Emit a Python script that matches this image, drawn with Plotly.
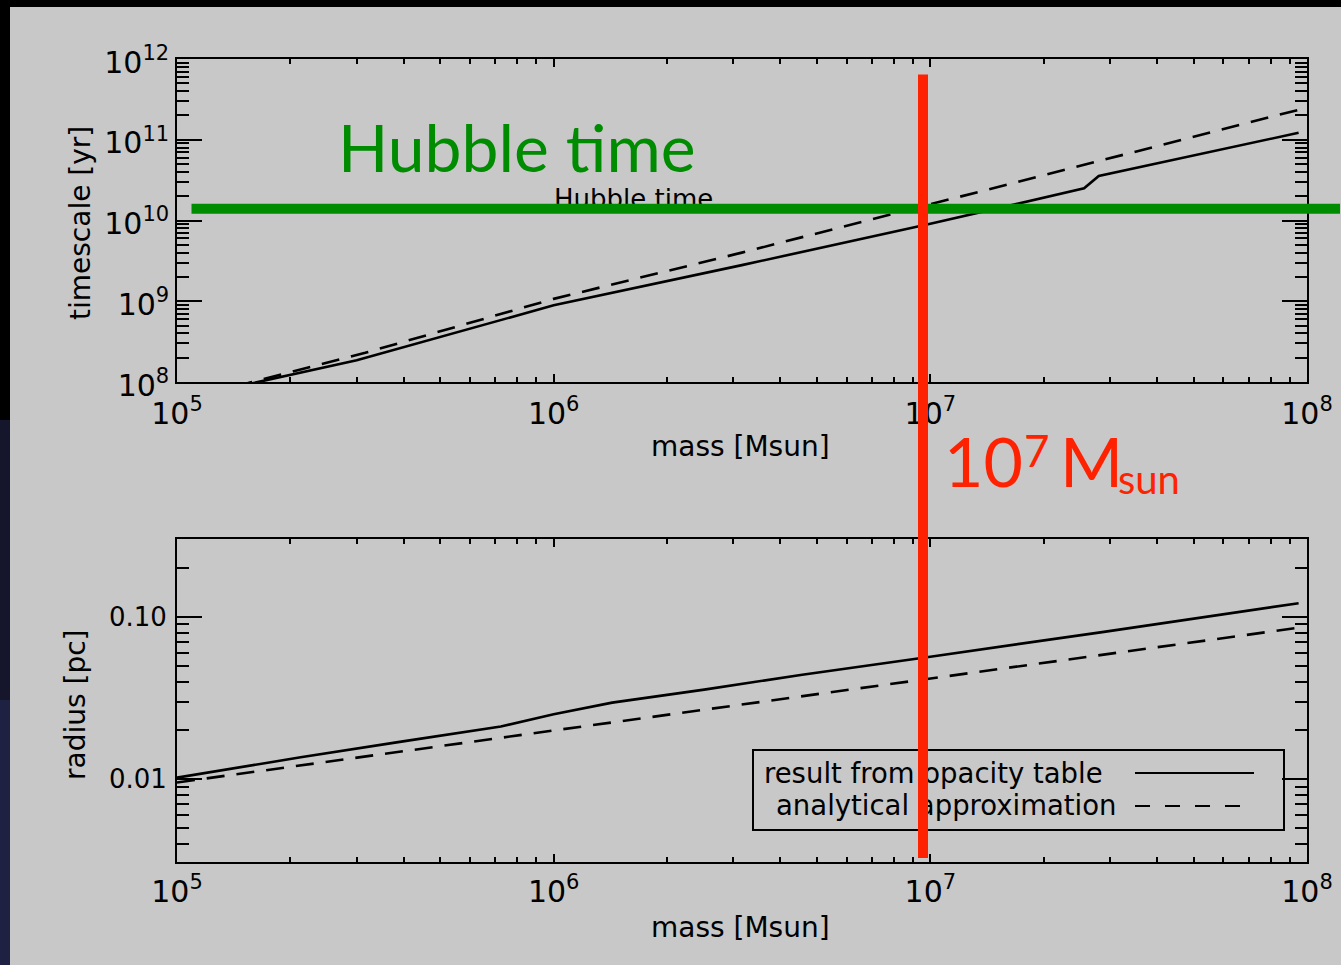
import math
import plotly.graph_objects as go

W, H = 1341, 965

# ---------------- data ----------------
# upper panel: timescale [yr] vs mass [Msun]
mass_t_solid = [1.0e5, 1.64e5, 3.0e5, 1.0e6, 3.16e6, 1.0e7, 1.58e7, 2.56e7, 2.8e7, 5.37e7, 9.5e7]
time_solid = [6.0e7, 1.0e8, 1.86e8, 8.9e8, 2.8e9, 9.1e9, 1.48e10, 2.5e10, 3.55e10, 6.9e10, 1.22e11]

mass_t_dash = [1.0e5, 1.58e5, 3.16e5, 1.0e6, 3.16e6, 1.0e7, 3.16e7, 9.5e7]
time_dash = [5.5e7, 1.0e8, 2.3e8, 1.07e9, 4.0e9, 1.58e10, 6.3e10, 2.35e11]

# lower panel: radius [pc] vs mass [Msun]
mass_r_solid = [1.0e5, 2.13e5, 3.98e5, 7.24e5, 1.0e6, 1.43e6, 2.51e6, 4.57e6, 1.0e7, 2.89e7, 9.5e7]
radius_solid = [0.01023, 0.01365, 0.0171, 0.02113, 0.0251, 0.02965, 0.03565, 0.04406, 0.05689, 0.0809, 0.1215]

mass_r_dash = [1.0e5, 3.16e5, 1.0e6, 3.16e6, 1.0e7, 3.16e7, 9.5e7]
radius_dash = [0.00955, 0.0138, 0.01995, 0.0288, 0.0417, 0.0603, 0.0858]

hubble_time = 1.4e10
hubble_label_mass = 1.0e6
legend_labels = ["result from opacity table", "analytical approximation"]

# ---------------- helpers ----------------
def px(x):
    return x / W

def py(y):
    return 1 - y / H

FONT = "DejaVu Sans"
BG = "#c8c8c8"
GREEN = "#008c00"
RED = "#ff2200"

fig = go.Figure()

line_solid = dict(color="black", width=2.6)
line_dash = dict(color="black", width=2.6, dash="18px,12px")

fig.add_trace(go.Scatter(x=mass_t_solid, y=time_solid, mode="lines", line=line_solid,
                         xaxis="x", yaxis="y", showlegend=False, hoverinfo="skip"))
fig.add_trace(go.Scatter(x=mass_t_dash, y=time_dash, mode="lines", line=line_dash,
                         xaxis="x", yaxis="y", showlegend=False, hoverinfo="skip"))
fig.add_trace(go.Scatter(x=mass_r_solid, y=radius_solid, mode="lines", line=line_solid,
                         xaxis="x2", yaxis="y2", showlegend=False, hoverinfo="skip"))
fig.add_trace(go.Scatter(x=mass_r_dash, y=radius_dash, mode="lines", line=line_dash,
                         xaxis="x2", yaxis="y2", showlegend=False, hoverinfo="skip"))

tickfont = dict(family=FONT, size=24, color="black")

def xaxis(anchor, standoff):
    return dict(type="log", range=[5, 8], domain=[px(177), px(1307)], anchor=anchor,
                automargin=False,
                showline=True, linecolor="black", linewidth=2, mirror="allticks",
                ticks="inside", ticklen=8, tickwidth=2, tickcolor="black",
                dtick=1, exponentformat="power", showexponent="all",
                showgrid=False, zeroline=False, tickfont=tickfont,
                ticklabelstandoff=standoff,
                minor=dict(ticks="inside", ticklen=5, tickwidth=1.5, tickcolor="black",
                           dtick="D1", showgrid=False))

fig.update_layout(
    template="none",
    width=W, height=H,
    margin=dict(l=0, r=0, t=0, b=0, autoexpand=False),
    paper_bgcolor=BG, plot_bgcolor=BG,
    showlegend=False,
    xaxis=xaxis("y", 5),
    xaxis2=xaxis("y2", 3),
    yaxis=dict(type="log", range=[8, 12], domain=[py(382), py(59)], anchor="x",
               automargin=False,
               showline=True, linecolor="black", linewidth=2, mirror="allticks",
               ticks="inside", ticklen=25, tickwidth=2, tickcolor="black",
               dtick=1, exponentformat="power", showexponent="all",
               showgrid=False, zeroline=False, tickfont=tickfont,
               ticklabelstandoff=1, ticklabelshift=3,
               minor=dict(ticks="inside", ticklen=12, tickwidth=1.5, tickcolor="black",
                          dtick="D1", showgrid=False)),
    yaxis2=dict(type="log", range=[-2.51, -0.52], domain=[py(862), py(539)], anchor="x2",
                automargin=False,
                showline=True, linecolor="black", linewidth=2, mirror="allticks",
                ticks="inside", ticklen=25, tickwidth=2, tickcolor="black",
                dtick=1, tickformat=".2f",
                showgrid=False, zeroline=False,
                tickfont=dict(family=FONT, size=26, color="black"), ticklabelstandoff=3,
                minor=dict(ticks="inside", ticklen=12, tickwidth=1.5, tickcolor="black",
                           dtick="D1", showgrid=False)),
)

shapes = []
# slide background edges
shapes.append(dict(type="rect", xref="paper", yref="paper", x0=0, x1=px(10), y0=py(420), y1=1,
                   fillcolor="#000000", line=dict(width=0), layer="below"))
shapes.append(dict(type="rect", xref="paper", yref="paper", x0=0, x1=px(10), y0=py(700), y1=py(420),
                   fillcolor="#15152c", line=dict(width=0), layer="below"))
shapes.append(dict(type="rect", xref="paper", yref="paper", x0=0, x1=px(10), y0=0, y1=py(700),
                   fillcolor="#1f2142", line=dict(width=0), layer="below"))
shapes.append(dict(type="rect", xref="paper", yref="paper", x0=0, x1=1, y0=py(7), y1=1,
                   fillcolor="#000000", line=dict(width=0), layer="below"))
# legend box
shapes.append(dict(type="rect", xref="paper", yref="paper", x0=px(753), x1=px(1284),
                   y0=py(830), y1=py(750), line=dict(color="black", width=2), layer="above"))
shapes.append(dict(type="line", xref="paper", yref="paper", x0=px(1135), x1=px(1254),
                   y0=py(773), y1=py(773), line=dict(color="black", width=2), layer="above"))
shapes.append(dict(type="line", xref="paper", yref="paper", x0=px(1135), x1=px(1242),
                   y0=py(806), y1=py(806), line=dict(color="black", width=2, dash="15px,15px"),
                   layer="above"))
fig.update_layout(shapes=shapes)

ann = []
title_font = dict(family=FONT, size=28, color="black")
def title(text, x, y, angle=0):
    return dict(text=text, x=px(x), y=py(y), xref="paper", yref="paper",
                xanchor="center", yanchor="middle", showarrow=False,
                textangle=angle, font=title_font)

ann.append(title("timescale [yr]", 80, 223, -90))
ann.append(title("radius [pc]", 75, 705, -90))
ann.append(title("mass [Msun]", 740, 447))
ann.append(title("mass [Msun]", 740, 927))

# small IDL label "Hubble time" at the Hubble time level
ann.append(dict(text="Hubble time", x=math.log10(hubble_label_mass), y=math.log10(hubble_time),
                xref="x", yref="y", xanchor="left", yanchor="bottom", yshift=-7, xshift=-2,
                showarrow=False, font=dict(family=FONT, size=26, color="black")))
# green Hubble-time line (headless arrow so it covers the IDL label)
ann.append(dict(text="", x=1, y=math.log10(hubble_time), xref="paper", yref="y",
                showarrow=True, arrowhead=0, arrowwidth=10, arrowcolor=GREEN,
                ax=-(W - 190), ay=0, standoff=0, startstandoff=0))

# legend labels
leg_font = dict(family=FONT, size=27.5, color="black")
ann.append(dict(text=legend_labels[0], x=px(762), y=py(773), xref="paper", yref="paper",
                xanchor="left", yanchor="middle", showarrow=False, font=leg_font))
ann.append(dict(text=legend_labels[1], x=px(774), y=py(805), xref="paper", yref="paper",
                xanchor="left", yanchor="middle", showarrow=False, font=leg_font))

# red vertical marker at 10^7 Msun
ann.append(dict(text="", x=px(923), y=py(858), xref="paper", yref="paper",
                showarrow=True, arrowhead=0, arrowwidth=10, arrowcolor=RED,
                ax=0, ay=-(858 - 73), standoff=0, startstandoff=0))

# slide overlay texts
ann.append(dict(text="Hubble time", x=px(336), y=py(147), xref="paper", yref="paper",
                xanchor="left", yanchor="middle", showarrow=False,
                font=dict(family="Lato", size=66, color=GREEN)))

def red(text, x, ybottom, size):
    return dict(text=text, x=px(x), y=py(ybottom), xref="paper", yref="paper",
                xanchor="left", yanchor="bottom", showarrow=False,
                font=dict(family="Lato", size=size, color=RED))

ann.append(red("10", 942, 503, 68))
ann.append(red("7", 1022, 478, 44))
ann.append(red("M", 1058, 503, 68))
ann.append(red("sun", 1116, 505, 40))
fig.update_layout(annotations=ann)

fig.write_html("out.html")
